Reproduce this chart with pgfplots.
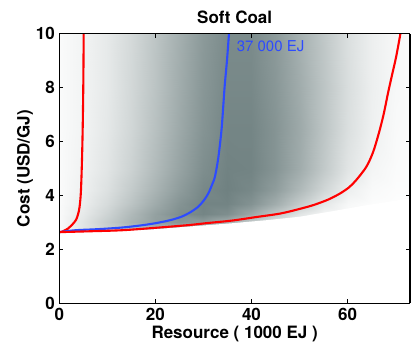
\documentclass[border=0pt]{standalone}
\usepackage{pgfplots}
\pgfplotsset{compat=1.18}
\usepackage{fontspec}
\setmainfont{TeX Gyre Heros}
\definecolor{myred}{RGB}{255,0,0}
\definecolor{myblue}{RGB}{45,75,255}
\begin{document}
\begin{tikzpicture}
\begin{axis}[
  name=ax,
  view={0}{90},
  scale only axis,
  width=350.7pt, height=269.6pt,
  xmin=0, xmax=73, ymin=0, ymax=10,
  xtick={0,20,40,60}, ytick={0,2,4,6,8,10},
  tick align=inside,
  major tick length=4pt,
  tick style={black, line width=1pt},
  axis line style={black, line width=1.4pt},
  axis on top,
  colormap={coal}{rgb255=(255,255,255) rgb255=(90,110,110)},
  point meta min=0, point meta max=1,
  /pgf/number format/assume math mode=true,
  ticklabel style={font=\fontsize{17}{20}\selectfont\bfseries},
  xticklabel style={yshift=-1pt},
  yticklabel style={xshift=-1pt},
  title={Soft Coal},
  title style={font=\fontsize{17}{20}\selectfont\bfseries, yshift=0pt},
  xlabel={Resource ( 1000 EJ )},
  ylabel={Cost (USD/GJ)},
  label style={font=\fontsize{17}{20}\selectfont\bfseries},
  xlabel style={yshift=1pt},
  ylabel style={yshift=-4pt},
  clip=true,
]
\addplot3[surf, shader=interp, point meta=explicit, mesh/cols=16]
table[x index=0, y index=1, z expr=0, meta index=2] {
0 2.6 0.00
5 2.6 0.10
10 2.6 0.18
15 2.6 0.25
20 2.6 0.28
25 2.6 0.28
30 2.6 0.22
35 2.6 0.12
40 2.6 0.05
45 2.6 0.02
50 2.6 0.00
55 2.6 0.00
60 2.6 0.00
65 2.6 0.00
70 2.6 0.00
73 2.6 0.00

0 2.8 0.03
5 2.8 0.18
10 2.8 0.33
15 2.8 0.45
20 2.8 0.52
25 2.8 0.52
30 2.8 0.45
35 2.8 0.32
40 2.8 0.18
45 2.8 0.06
50 2.8 0.02
55 2.8 0.00
60 2.8 0.00
65 2.8 0.00
70 2.8 0.00
73 2.8 0.00

0 3.0 0.03
5 3.0 0.18
10 3.0 0.35
15 3.0 0.52
20 3.0 0.66
25 3.0 0.72
30 3.0 0.68
35 3.0 0.55
40 3.0 0.35
45 3.0 0.16
50 3.0 0.05
55 3.0 0.02
60 3.0 0.01
65 3.0 0.00
70 3.0 0.00
73 3.0 0.00

0 3.3 0.03
5 3.3 0.15
10 3.3 0.30
15 3.3 0.48
20 3.3 0.65
25 3.3 0.78
30 3.3 0.84
35 3.3 0.78
40 3.3 0.60
45 3.3 0.38
50 3.3 0.18
55 3.3 0.06
60 3.3 0.02
65 3.3 0.01
70 3.3 0.01
73 3.3 0.01

0 3.7 0.03
5 3.7 0.12
10 3.7 0.25
15 3.7 0.41
20 3.7 0.58
25 3.7 0.74
30 3.7 0.85
35 3.7 0.85
40 3.7 0.75
45 3.7 0.57
50 3.7 0.35
55 3.7 0.16
60 3.7 0.05
65 3.7 0.02
70 3.7 0.01
73 3.7 0.01

0 4.2 0.03
5 4.2 0.10
10 4.2 0.21
15 4.2 0.36
20 4.2 0.52
25 4.2 0.68
30 4.2 0.82
35 4.2 0.87
40 4.2 0.82
45 4.2 0.68
50 4.2 0.48
55 4.2 0.28
60 4.2 0.11
65 4.2 0.04
70 4.2 0.02
73 4.2 0.02

0 5 0.03
5 5 0.09
10 5 0.18
15 5 0.31
20 5 0.47
25 5 0.63
30 5 0.78
35 5 0.86
40 5 0.85
45 5 0.74
50 5 0.57
55 5 0.37
60 5 0.18
65 5 0.07
70 5 0.03
73 5 0.02

0 6.5 0.03
5 6.5 0.08
10 6.5 0.16
15 6.5 0.28
20 6.5 0.43
25 6.5 0.59
30 6.5 0.74
35 6.5 0.84
40 6.5 0.84
45 6.5 0.74
50 6.5 0.59
55 6.5 0.40
60 6.5 0.22
65 6.5 0.10
70 6.5 0.04
73 6.5 0.03

0 8 0.03
5 8 0.08
10 8 0.15
15 8 0.27
20 8 0.41
25 8 0.57
30 8 0.72
35 8 0.82
40 8 0.82
45 8 0.72
50 8 0.57
55 8 0.40
60 8 0.23
65 8 0.11
70 8 0.05
73 8 0.03

0 10 0.03
5 10 0.08
10 10 0.15
15 10 0.26
20 10 0.40
25 10 0.55
30 10 0.70
35 10 0.80
40 10 0.80
45 10 0.70
50 10 0.54
55 10 0.38
60 10 0.22
65 10 0.11
70 10 0.05
73 10 0.03
};
% white region below the shaded domain
\addplot[draw=none, fill=white] coordinates {
(0,0) (0,2.6) (10,2.66) (20,2.75) (28,2.86) (36,2.97) (43,3.08) (50,3.21) (57,3.42) (64,3.64) (69,3.78) (73,3.89) (73,0) (0,0)
};
% left red (5 %)
\addplot[myred, line width=2.1pt, smooth] coordinates {
(0,2.64) (0.6,2.66) (1.2,2.71) (1.8,2.77) (2.3,2.85) (2.9,2.96) (3.5,3.1) (3.9,3.3) (4.2,3.55) (4.45,4.0) (4.6,4.6) (4.75,5.5) (4.87,6.5) (4.97,7.7) (5.03,8.8) (5.08,10.2)
};
% blue (median)
\addplot[myblue, line width=2.1pt, smooth] coordinates {
(0,2.64) (3.3,2.71) (8,2.75) (13,2.81) (17,2.89) (20,2.97) (23,3.08) (25.4,3.21) (27.3,3.38) (28.9,3.58) (30.1,3.82) (31.0,4.07) (31.8,4.4) (32.4,4.7) (33.1,5.4) (33.8,6.5) (34.4,8.0) (34.9,9.0) (35.4,10.2)
};
% right red (95 %)
\addplot[myred, line width=2.1pt, smooth] coordinates {
(0,2.64) (6,2.67) (13,2.71) (20,2.80) (26.8,2.90) (31,2.98) (36,3.07) (41,3.2) (46,3.33) (50,3.5) (53,3.65) (56,3.85) (58.4,4.07) (60.3,4.3) (61.8,4.57) (63.9,5.06) (65.3,5.6) (66.5,6.3) (67.5,7.0) (68.4,7.78) (69.3,8.5) (70.1,9.13) (71.0,10) (71.1,10.2)
};
\node[anchor=west, text=myblue, font=\fontsize{15}{18}\selectfont, inner sep=0pt] at (axis cs:36.9,9.52) {37 000 EJ};
\end{axis}
\pgfresetboundingbox
\path[use as bounding box] ([shift={(-59.3pt,-42.7pt)}]ax.south west) rectangle ([shift={(5pt,33.7pt)}]ax.north east);
\end{tikzpicture}
\end{document}
